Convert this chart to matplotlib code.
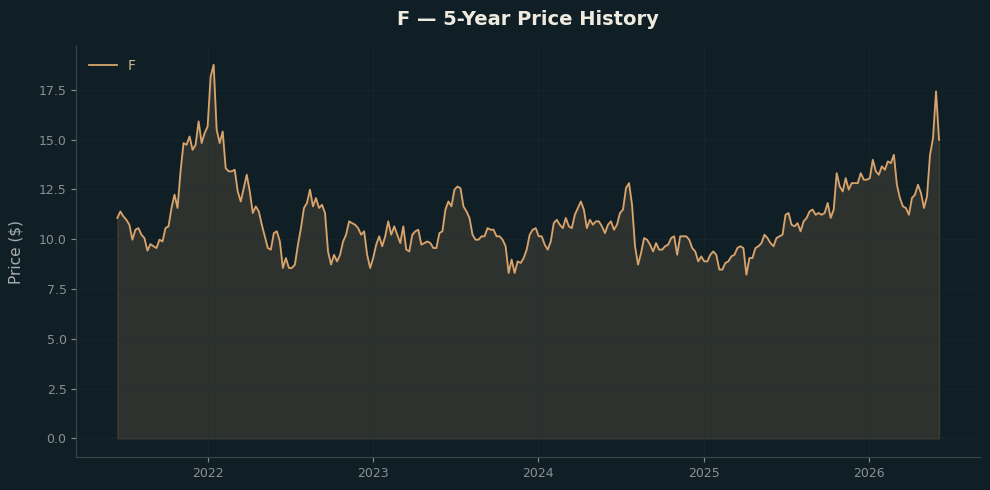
import pandas as pd
import matplotlib
matplotlib.use("Agg")
import matplotlib.pyplot as plt
import matplotlib.dates as mdates

# Ticker and date span (roughly every 6-7 days between start and end)
ticker = "F"
start_date = "2021-06-14"
end_date = "2026-06-05"

# Closing prices, oldest first
prices_2021_22 = [
    11.07, 11.40, 11.15, 10.98, 10.73, 9.98, 10.48, 10.56, 10.23, 10.06,
    9.43, 9.76, 9.65, 9.56, 9.98, 9.89, 10.56, 10.65, 11.57, 12.24,
    11.57, 13.41, 14.83, 14.74, 15.16, 14.49, 14.74, 15.92, 14.83, 15.33,
    15.66, 18.17, 18.76, 15.50, 14.83, 15.41, 13.57, 13.41, 13.41, 13.49,
    12.40, 11.90, 12.57, 13.24, 12.40,
]
prices_2022_23 = [
    11.32, 11.65, 11.40, 10.73, 10.15, 9.56, 9.48, 10.31, 10.40, 9.89,
    8.56, 9.06, 8.56, 8.56, 8.73, 9.73, 10.56, 11.57, 11.82, 12.49,
    11.65, 12.07, 11.57, 11.73, 11.32, 9.39, 8.73, 9.22, 8.89, 9.22,
    9.89, 10.23, 10.90, 10.81, 10.73, 10.56, 10.23, 10.40, 9.22, 8.56,
    9.06, 9.73, 10.15, 9.65, 10.15, 10.90,
]
prices_2023_24 = [
    10.23, 10.65, 10.23, 9.81, 10.65, 9.48, 9.39, 10.23, 10.40, 10.48,
    9.73, 9.81, 9.89, 9.81, 9.56, 9.56, 10.31, 10.40, 11.49, 11.90,
    11.65, 12.49, 12.65, 12.57, 11.65, 11.40, 11.07, 10.23, 9.98, 9.98,
    10.15, 10.15, 10.56, 10.48, 10.48, 10.15, 10.15, 9.98, 9.65, 8.31,
    8.98, 8.31, 8.89, 8.81, 9.06, 9.48,
]
prices_2024_25 = [
    10.23, 10.48, 10.56, 10.15, 10.15, 9.73, 9.48, 9.89, 10.81, 10.98,
    10.73, 10.56, 11.07, 10.65, 10.56, 11.23, 11.57, 11.90, 11.49, 10.56,
    10.98, 10.73, 10.90, 10.90, 10.65, 10.31, 10.73, 10.90, 10.48, 10.73,
    11.32, 11.49, 12.57, 12.82, 11.73, 9.65, 8.73, 9.31, 10.06, 9.98,
    9.73, 9.39, 9.81, 9.48, 9.48, 9.65,
]
prices_2025_26 = [
    9.73, 10.06, 10.15, 9.22, 10.15, 10.15, 10.15, 9.98, 9.56, 9.39,
    8.89, 9.14, 8.89, 8.89, 9.22, 9.39, 9.22, 8.48, 8.48, 8.81,
    8.89, 9.14, 9.22, 9.56, 9.65, 9.56, 8.22, 9.06, 9.06, 9.56,
    9.65, 9.81, 10.23, 10.06, 9.81, 9.65, 10.06, 10.15, 10.23, 11.23,
    11.32, 10.73, 10.65, 10.81, 10.40, 10.90,
]
prices_2026 = [
    11.07, 11.40, 11.49, 11.23, 11.32, 11.23, 11.32, 11.82, 11.07, 11.49,
    13.32, 12.65, 12.40, 13.07, 12.49, 12.82, 12.82, 12.82, 13.32, 12.99,
    12.99, 13.07, 13.99, 13.41, 13.24, 13.66, 13.49, 13.91, 13.82, 14.24,
    12.74, 12.07, 11.65, 11.57, 11.23, 12.07, 12.24, 12.74, 12.32, 11.57,
    12.15, 14.24, 15.07, 17.42, 14.99,
]

prices = (prices_2021_22 + prices_2022_23 + prices_2023_24
          + prices_2024_25 + prices_2025_26 + prices_2026)
dates = pd.date_range(start_date, end_date, periods=len(prices))

bg = "#101f25"
line_color = "#d9a46c"
tick_color = "#8a9092"
spine_color = "#3c4649"

fig = plt.figure(figsize=(9.9, 4.9), dpi=100, facecolor=bg)
ax = fig.add_axes([0.077, 0.067, 0.913, 0.839])
ax.set_facecolor(bg)

ax.plot(dates, prices, color=line_color, linewidth=1.3, label=ticker)
ax.fill_between(dates, prices, color=line_color, alpha=0.15)

ax.set_title(f"{ticker} — 5-Year Price History", color="#f0ebe0",
             fontsize=14, fontweight="bold", pad=15)
ax.set_ylabel("Price ($)", color="#a8adae", fontsize=11, labelpad=11)

ax.xaxis.set_major_locator(mdates.YearLocator())
ax.xaxis.set_major_formatter(mdates.DateFormatter("%Y"))

ax.grid(True, color="#1d2e34", linewidth=0.6, alpha=0.4)
ax.tick_params(colors=tick_color, labelsize=9)
for side in ["top", "right"]:
    ax.spines[side].set_visible(False)
for side in ["left", "bottom"]:
    ax.spines[side].set_color(spine_color)

leg = ax.legend(loc="upper left", frameon=False, fontsize=10)
for text in leg.get_texts():
    text.set_color("#cdb291")

fig.savefig("out.png", dpi=100, facecolor=bg)
